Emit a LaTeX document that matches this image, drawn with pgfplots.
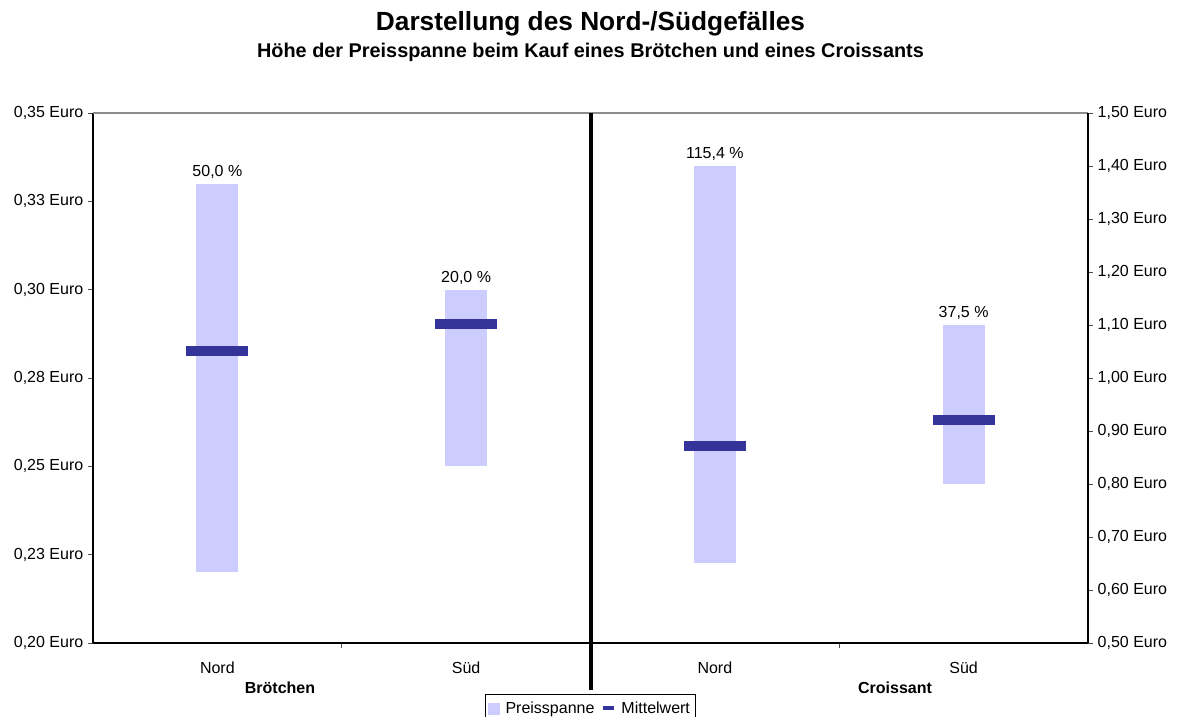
\documentclass[border=0pt]{standalone}
\usepackage{pgfplots}
\pgfplotsset{compat=1.18}
\usepackage{pgfplotstable}
\usepackage{fontspec}
\setmainfont{Liberation Sans}
\definecolor{barcol}{HTML}{CCCCFF}
\definecolor{meancol}{HTML}{333399}

\pgfplotstableread{
x low high mean
0.5 0.22 0.33 0.2826
1.5 0.25 0.30 0.2903
}\brot
\pgfplotstableread{
x low high mean
2.5 0.65 1.40 0.872
3.5 0.80 1.10 0.921
}\crois

\pgfplotsset{
  /pgf/number format/assume math mode=true,
  common/.style={
    at={(0,0)}, anchor=south west,
    scale only axis, width=746.25pt, height=397.5pt,
    xmin=0, xmax=4,
    tick align=outside,
    major tick length=3.75pt,
    tick style={black!70, line width=0.6pt},
    ticklabel style={font=\fontsize{12}{14}\selectfont},
    axis line style={line width=0.8pt},
  },
  rangebar/.style={draw=none, mark=none, forget plot,
    error bars/.cd, y dir=both, y explicit, error mark=none,
    error bar style={line width=31.5pt, draw=barcol}},
  meanbar/.style={only marks, mark=-, mark size=23.25pt, forget plot,
    mark options={line width=7.5pt, draw=meancol}},
  pctlabel/.style={draw=none, mark=none, forget plot,
    nodes near coords={\pgfmathprintnumber[fixed,fixed zerofill,precision=1,use comma]{\pgfplotspointmeta}~\%},
    every node near coord/.append style={anchor=base, inner sep=0pt, yshift=5.6pt, font=\fontsize{12}{14}\selectfont, text=black}},
}

\begin{document}
\begin{tikzpicture}[x=0.75pt,y=0.75pt]
\path[use as bounding box] (-93,-74) rectangle (1088,643);
\begin{axis}[common,
  ymin=0.2, ymax=0.35,
  axis x line*=bottom, axis y line*=left,
  ytick={0.2,0.225,0.25,0.275,0.3,0.325,0.35},
  yticklabels={{0,20 Euro},{0,23 Euro},{0,25 Euro},{0,28 Euro},{0,30 Euro},{0,33 Euro},{0,35 Euro}},
  xtick={1,2,3}, xticklabels={,,},
  extra x ticks={0.5,1.5,2.5,3.5},
  extra x tick labels={Nord,Süd,Nord,Süd},
  extra x tick style={major tick length=0pt, xticklabel style={yshift=-11pt}},
  clip=false,
  legend columns=2,
  legend style={at={(rel axis cs:0.5,-0.0962)}, anchor=north, draw=black, line width=0.6pt,
    font=\fontsize{12}{14}\selectfont, inner xsep=2pt, inner ysep=4pt,
    /tikz/every odd column/.append style={column sep=2pt},
    /tikz/every even column/.append style={column sep=3pt}},
  legend cell align=left,
]
\addlegendimage{legend image code/.code={\fill[barcol] (0pt,-3.6pt) rectangle (8.25pt,4.6pt);}}
\addlegendimage{legend image code/.code={\draw[meancol, line width=3pt] (0pt,0.6pt) -- (8.25pt,0.6pt);}}
\legend{Preisspanne, Mittelwert}
\addplot[rangebar] table[x=x, y expr={(\thisrow{low}+\thisrow{high})/2}, y error expr={(\thisrow{high}-\thisrow{low})/2}] {\brot};
\addplot[meanbar] table[x=x, y=mean] {\brot};
\addplot[pctlabel, point meta={(\thisrow{high}/\thisrow{low}-1)*100}] table[x=x, y=high] {\brot};
\draw[black!45, line width=0.8pt] (rel axis cs:0,1) -- (rel axis cs:1,1);
\end{axis}
\begin{axis}[common,
  ymin=0.5, ymax=1.5,
  axis x line=none, axis y line*=right,
  ytick={0.5,0.6,0.7,0.8,0.9,1.0,1.1,1.2,1.3,1.4,1.5},
  yticklabels={{0,50 Euro},{0,60 Euro},{0,70 Euro},{0,80 Euro},{0,90 Euro},{1,00 Euro},{1,10 Euro},{1,20 Euro},{1,30 Euro},{1,40 Euro},{1,50 Euro}},
  clip=false,
]
\addplot[rangebar] table[x=x, y expr={(\thisrow{low}+\thisrow{high})/2}, y error expr={(\thisrow{high}-\thisrow{low})/2}] {\crois};
\addplot[meanbar] table[x=x, y=mean] {\crois};
\addplot[pctlabel, point meta={(\thisrow{high}/\thisrow{low}-1)*100}] table[x=x, y=high] {\crois};
\end{axis}
\draw[line width=3pt] (497.5,530) -- (497.5,-47);
\node[font=\bfseries\fontsize{19.7}{23}\selectfont] at (497.5,619) {Darstellung des Nord-/Südgefälles};
\node[font=\bfseries\fontsize{14.9}{17}\selectfont] at (497.5,591) {Höhe der Preisspanne beim Kauf eines Brötchen und eines Croissants};
\node[font=\bfseries\fontsize{12}{14}\selectfont] at (187,-45) {Brötchen};
\node[font=\bfseries\fontsize{12}{14}\selectfont] at (802,-45) {Croissant};
\end{tikzpicture}
\end{document}
